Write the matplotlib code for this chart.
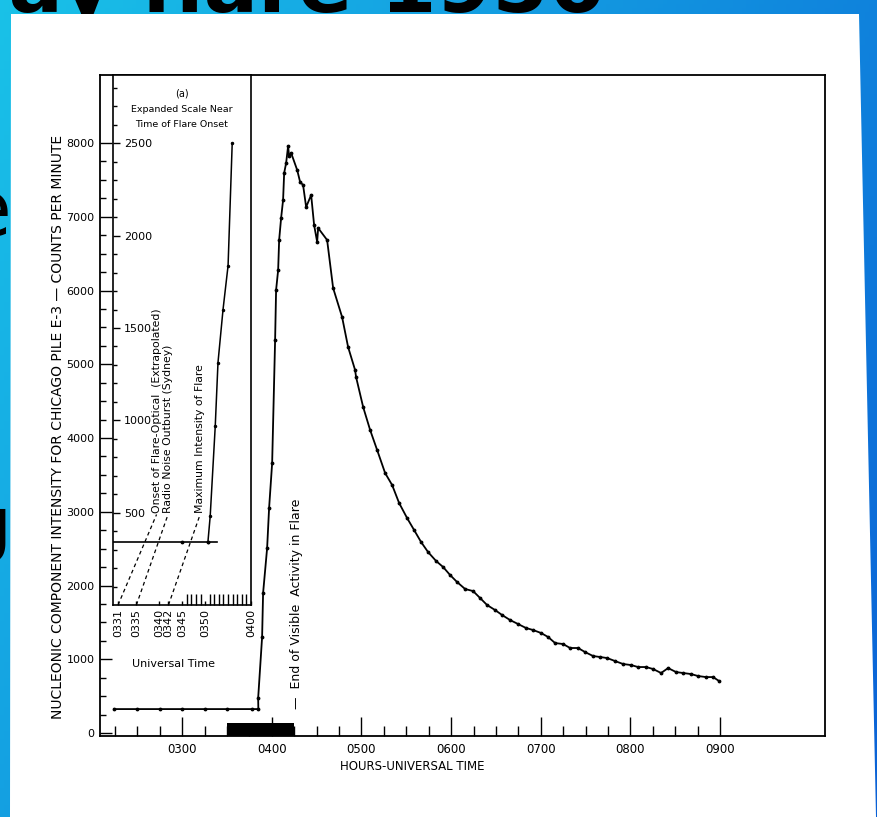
import numpy as np
import matplotlib
matplotlib.use("Agg")
import matplotlib.pyplot as plt
from matplotlib.patches import Polygon

plt.rcParams['font.family'] = ['DejaVu Sans']

# main curve, time in decimal hours UT, counts per minute
main_time = [2.242, 2.5, 2.75, 3.0, 3.25, 3.5, 3.78, 3.85,
             3.848, 3.892, 3.903, 3.948, 3.970, 4.004, 4.037, 4.048, 4.071, 4.082,
             4.104, 4.126, 4.138, 4.160, 4.182, 4.193, 4.216, 4.283, 4.316, 4.349,
             4.383, 4.439, 4.472, 4.506, 4.517, 4.617, 4.684, 4.784, 4.851, 4.929,
             4.940, 5.019, 5.097, 5.175, 5.264, 5.342, 5.420, 5.509, 5.587, 5.665,
             5.743, 5.833, 5.911, 5.989, 6.067, 6.156, 6.245, 6.323, 6.401, 6.490,
             6.569, 6.658, 6.747, 6.836, 6.914, 7.004, 7.082, 7.160, 7.249, 7.327,
             7.416, 7.494, 7.584, 7.662, 7.740, 7.829, 7.918, 8.007, 8.085, 8.174,
             8.253, 8.342, 8.420, 8.509, 8.587, 8.676, 8.754, 8.843, 8.922, 8.989]
main_counts = [325, 325, 325, 325, 325, 325, 325, 325,
               475, 1302, 1898, 2508, 3051, 3661, 5329, 6007, 6278, 6685,
               6983, 7227, 7593, 7729, 7959, 7823, 7864, 7634, 7471, 7431,
               7132, 7295, 6888, 6658, 6847, 6685, 6034, 5641, 5234, 4922,
               4827, 4420, 4108, 3837, 3525, 3363, 3119, 2915, 2753, 2590,
               2454, 2332, 2251, 2142, 2047, 1953, 1925, 1831, 1736, 1668,
               1600, 1532, 1478, 1424, 1397, 1356, 1302, 1220, 1207, 1153,
               1153, 1098, 1044, 1031, 1017, 976, 936, 922, 895, 895,
               868, 814, 881, 827, 814, 800, 773, 759, 759, 705]
x_ticks = [3, 4, 5, 6, 7, 8, 9]
x_labels = ["0300", "0400", "0500", "0600", "0700", "0800", "0900"]
y_ticks = [0, 1000, 2000, 3000, 4000, 5000, 6000, 7000, 8000]
flare_start, flare_end = 3.5, 4.25

# inset (a): minutes after 0300
inset_base_t = [29.9, 45, 50.6, 52.6]
inset_base_v = [340, 340, 340, 340]
inset_rise_t = [50.6, 51.1, 52.2, 52.8, 53.9, 55.0, 55.9]
inset_rise_v = [340, 481, 968, 1313, 1600, 1838, 2500]
inset_xticks = [31, 35, 40, 42, 45, 50, 60]
inset_xlabels = ["0331", "0335", "0340", "0342", "0345", "0350", "0400"]
inset_yticks = [500, 1000, 1500, 2000, 2500]
events = ["Onset of Flare-Optical  (Extrapolated)",
          "Radio Noise Outburst (Sydney)",
          "Maximum Intensity of Flare"]
event_t = [31, 35, 42]
event_label_t = [39.4, 41.9, 48.9]

W, H = 878, 817
fig = plt.figure(figsize=(W / 100, H / 100), dpi=100)

# slide background behind the scanned figure
bg = fig.add_axes([0, 0, 1, 1])
xx, yy = np.meshgrid(np.linspace(0, 1, 200), np.linspace(0, 1, 200))
s = 0.65 * xx + 0.35 * yy
c1 = np.array([0.10, 0.76, 0.91])
c2 = np.array([0.04, 0.38, 0.84])
grad = c1[None, None, :] * (1 - s[..., None]) + c2[None, None, :] * s[..., None]
bg.imshow(grad, extent=[0, W, H, 0], aspect='auto', zorder=0)
bg.text(605, 12, "Cosmic ray flare 1956", fontsize=58, fontweight='bold',
        ha='right', va='baseline', zorder=1)
bg.text(12, 236, "e", fontsize=56, ha='right', va='baseline', zorder=1)
bg.text(12, 548, "g", fontsize=52, ha='right', va='baseline', zorder=1)
bg.add_patch(Polygon([(11, 14), (859, 14), (876, 817), (10, 817)],
                     closed=True, facecolor='white', edgecolor='none', zorder=2))
bg.set_xlim(0, W)
bg.set_ylim(H, 0)
bg.axis('off')

# main chart
ax = fig.add_axes([100 / W, 81 / H, 725 / W, 661 / H])
ax.set_zorder(3)
ax.plot(main_time, main_counts, color='black', lw=1.3, marker='.', ms=3.5)
ax.bar(flare_start, 175, width=flare_end - flare_start, bottom=-40,
       align='edge', color='black', zorder=1)
ax.set_xlim(2.084, 10.17)
ax.set_ylim(-40, 8922)
ax.set_xticks(x_ticks)
ax.set_xticklabels(x_labels, fontsize=8.5)
ax.set_xticks(np.arange(2.25, 9.01, 0.25), minor=True)
ax.set_yticks(y_ticks)
ax.set_yticklabels([str(v) for v in y_ticks], fontsize=8)
ax.set_yticks(np.arange(0, 8001, 250), minor=True)
ax.tick_params(axis='x', which='major', direction='in', length=13.5, width=1, pad=5)
ax.tick_params(axis='x', which='minor', direction='in', length=7, width=1)
ax.tick_params(axis='y', which='major', direction='in', length=8.5, width=1, pad=4)
ax.tick_params(axis='y', which='minor', direction='in', length=4.3, width=1)
for sp in ax.spines.values():
    sp.set_linewidth(1.3)
ax.text(4.271, 330, "\u2014  End of Visible  Activity in Flare", rotation=90,
        ha='center', va='bottom', fontsize=9)

fig.text(58 / W, (H - 427) / H,
         "NUCLEONIC COMPONENT INTENSITY FOR CHICAGO PILE E-3 \u2014 COUNTS PER MINUTE",
         rotation=90, ha='center', va='center', fontsize=10)
fig.text(412 / W, (H - 766) / H, "HOURS-UNIVERSAL TIME", ha='center', va='center',
         fontsize=8.5)

# inset (a)
axin = fig.add_axes([113 / W, (H - 605) / H, 138 / W, 530 / H])
axin.set_zorder(4)
axin.plot(inset_base_t, inset_base_v, color='black', lw=1.2)
axin.plot(inset_base_t[1:3], inset_base_v[1:3], ls='none', marker='.', color='black', ms=3.5)
axin.plot(inset_rise_t, inset_rise_v, color='black', lw=1.1, marker='.', ms=3)
for t0, t1, label in zip(event_t, event_label_t, events):
    axin.plot([t0, t1], [0, 490], color='black', lw=0.9, ls=(0, (3, 2.5)))
    axin.text(t1, 500, label, rotation=90, ha='center', va='bottom', fontsize=7.8)
axin.set_xlim(29.9, 60)
axin.set_ylim(0, 2870)
axin.set_xticks(inset_xticks)
axin.set_xticklabels(inset_xlabels, rotation=90, fontsize=8)
axin.set_xticks(np.arange(46, 60, 1), minor=True)
axin.set_yticks(inset_yticks)
axin.set_yticklabels([str(v) for v in inset_yticks], fontsize=8)
axin.set_yticks(np.arange(100, 2801, 100), minor=True)
axin.tick_params(axis='x', which='major', direction='in', length=3, width=1, pad=3)
axin.tick_params(axis='x', which='minor', direction='in', length=8, width=1)
axin.tick_params(axis='y', which='major', direction='in', length=5, width=1, pad=-8)
axin.tick_params(axis='y', which='minor', direction='in', length=3, width=1)
for lab in axin.get_yticklabels():
    lab.set_horizontalalignment('left')
for sp in axin.spines.values():
    sp.set_linewidth(1.2)
axin.text(0.5, 0.966, "(a)", transform=axin.transAxes, ha='center', va='center', fontsize=7)
axin.text(0.5, 0.934, "Expanded Scale Near", transform=axin.transAxes, ha='center',
          va='center', fontsize=6.8)
axin.text(0.5, 0.906, "Time of Flare Onset", transform=axin.transAxes, ha='center',
          va='center', fontsize=6.8)
fig.text(174 / W, (H - 664) / H, "Universal Time", ha='center', va='center', fontsize=8)

fig.savefig("out.png", dpi=100)
